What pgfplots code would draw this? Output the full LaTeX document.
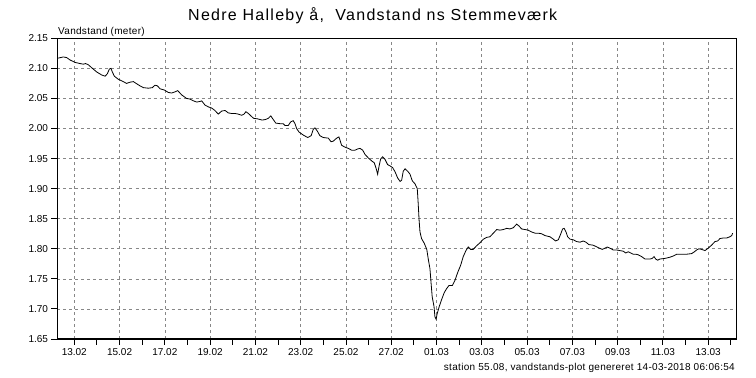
\documentclass[border=0pt]{standalone}
\usepackage{fontspec}
\setmainfont{Liberation Sans}
\usepackage{pgfplots}
\pgfplotsset{compat=1.18}
\definecolor{gridgray}{RGB}{135,135,135}
\begin{document}
\begin{tikzpicture}[x=1pt,y=1pt]
\useasboundingbox (0,0) rectangle (756,378);
\begin{axis}[
  at={(57.5pt,39pt)}, anchor=south west,
  scale only axis, width=679.2pt, height=300.7pt,
  xmin=-0.742, xmax=29.26, ymin=1.65, ymax=2.15,
  xtick={0,2,4,6,8,10,12,14,16,18,20,22,24,26,28},
  xticklabels={13.02,15.02,17.02,19.02,21.02,23.02,25.02,27.02,01.03,03.03,05.03,07.03,09.03,11.03,13.03},
  minor xtick={1,3,5,7,9,11,13,15,17,19,21,23,25,27,29},
  ytick={1.65,1.70,1.75,1.80,1.85,1.90,1.95,2.00,2.05,2.10,2.15},
  yticklabel style={/pgf/number format/.cd, fixed, fixed zerofill, precision=2},
  /pgf/number format/assume math mode=true,
  tick align=outside, xtick pos=bottom, ytick pos=left,
  major tick length=6pt, minor tick length=6pt,
  tick style={black, line width=0.9pt},
  xmajorgrids, ymajorgrids,
  major grid style={gridgray, dash pattern=on 3pt off 3pt, line width=0.7pt},
  axis line style={line width=1.3pt},
  ticklabel style={font=\fontsize{10}{12}\selectfont},
]
\addplot[black, line width=0.8pt] coordinates {
(-0.71,2.117) (-0.49,2.119) (-0.34,2.118) (-0.19,2.114) (0.03,2.110) (0.25,2.108) (0.40,2.107) (0.50,2.108) (0.62,2.106) (0.80,2.100) (0.99,2.094) (1.21,2.089) (1.36,2.087) (1.46,2.091) (1.55,2.099) (1.62,2.100) (1.68,2.094) (1.77,2.087) (1.94,2.082) (2.16,2.078) (2.31,2.075) (2.46,2.077) (2.61,2.078) (2.73,2.075) (2.90,2.071) (3.05,2.068) (3.27,2.067) (3.45,2.068) (3.56,2.072) (3.67,2.071) (3.79,2.066) (3.98,2.064) (4.15,2.060) (4.30,2.059) (4.45,2.061) (4.57,2.063) (4.74,2.056) (4.96,2.050) (5.11,2.049) (5.26,2.046) (5.41,2.044) (5.55,2.045) (5.63,2.046) (5.77,2.039) (5.92,2.036) (6.07,2.034) (6.21,2.030) (6.36,2.024) (6.51,2.029) (6.66,2.030) (6.80,2.026) (6.95,2.025) (7.10,2.025) (7.24,2.024) (7.39,2.022) (7.50,2.024) (7.58,2.028) (7.69,2.025) (7.80,2.021) (7.92,2.017) (8.10,2.016) (8.30,2.014) (8.45,2.015) (8.57,2.017) (8.68,2.021) (8.75,2.017) (8.90,2.009) (9.09,2.008) (9.23,2.008) (9.31,2.005) (9.45,2.005) (9.56,2.011) (9.67,2.013) (9.75,2.008) (9.82,2.000) (9.93,1.994) (10.12,1.989) (10.31,1.985) (10.46,1.988) (10.56,1.999) (10.63,2.001) (10.73,1.996) (10.85,1.988) (11.00,1.985) (11.22,1.984) (11.34,1.978) (11.44,1.979) (11.59,1.984) (11.69,1.986) (11.81,1.972) (11.96,1.969) (12.10,1.967) (12.25,1.964) (12.40,1.964) (12.52,1.966) (12.62,1.967) (12.74,1.964) (12.84,1.957) (12.99,1.951) (13.14,1.946) (13.25,1.943) (13.33,1.934) (13.40,1.924) (13.46,1.937) (13.53,1.949) (13.62,1.953) (13.72,1.949) (13.84,1.940) (13.94,1.938) (14.06,1.935) (14.17,1.928) (14.28,1.918) (14.39,1.912) (14.46,1.914) (14.53,1.929) (14.61,1.933) (14.75,1.928) (14.83,1.924) (14.93,1.913) (15.05,1.908) (15.15,1.900) (15.19,1.876) (15.23,1.848) (15.27,1.828) (15.34,1.817) (15.46,1.809) (15.57,1.799) (15.64,1.782) (15.71,1.767) (15.76,1.743) (15.81,1.720) (15.89,1.704) (15.93,1.687) (15.98,1.683) (16.03,1.692) (16.12,1.704) (16.23,1.716) (16.34,1.727) (16.45,1.734) (16.55,1.739) (16.70,1.739) (16.82,1.748) (16.93,1.760) (17.07,1.773) (17.18,1.787) (17.30,1.797) (17.40,1.803) (17.51,1.799) (17.62,1.799) (17.77,1.805) (17.92,1.810) (18.07,1.816) (18.22,1.819) (18.36,1.820) (18.51,1.826) (18.66,1.832) (18.80,1.831) (18.95,1.832) (19.10,1.834) (19.24,1.833) (19.39,1.835) (19.54,1.841) (19.64,1.838) (19.76,1.833) (19.91,1.832) (20.05,1.831) (20.20,1.828) (20.35,1.826) (20.49,1.826) (20.64,1.825) (20.79,1.822) (21.01,1.820) (21.16,1.816) (21.26,1.813) (21.38,1.815) (21.48,1.824) (21.57,1.833) (21.64,1.834) (21.72,1.828) (21.79,1.820) (21.90,1.816) (22.04,1.815) (22.19,1.812) (22.34,1.811) (22.48,1.813) (22.60,1.811) (22.73,1.807) (22.92,1.806) (23.14,1.802) (23.32,1.799) (23.44,1.801) (23.54,1.803) (23.66,1.801) (23.81,1.798) (23.96,1.798) (24.10,1.797) (24.25,1.796) (24.36,1.793) (24.47,1.795) (24.58,1.793) (24.69,1.791) (24.80,1.791) (24.91,1.790) (25.06,1.787) (25.21,1.783) (25.43,1.783) (25.53,1.784) (25.61,1.787) (25.68,1.783) (25.77,1.781) (25.87,1.783) (26.09,1.784) (26.31,1.786) (26.46,1.788) (26.61,1.791) (26.83,1.791) (27.05,1.791) (27.27,1.792) (27.39,1.795) (27.49,1.798) (27.59,1.800) (27.71,1.799) (27.86,1.797) (28.00,1.801) (28.15,1.806) (28.30,1.812) (28.42,1.813) (28.52,1.817) (28.67,1.818) (28.82,1.818) (28.96,1.820) (29.04,1.822) (29.08,1.826)
};
\end{axis}
\node[anchor=base west, inner sep=0pt, font=\fontsize{16}{19}\selectfont\addfontfeatures{LetterSpace=8}] at (188,357.3) {Nedre Halleby å,\ \ Vandstand ns Stemmeværk};
\node[anchor=base west, inner sep=0pt, font=\fontsize{10}{12}\selectfont\addfontfeatures{LetterSpace=3}] at (58,343) {Vandstand (meter)};
\node[anchor=base east, inner sep=0pt, font=\fontsize{10}{12}\selectfont\addfontfeatures{LetterSpace=3}] at (735,8) {station 55.08, vandstands-plot genereret 14-03-2018 06:06:54};
\end{tikzpicture}
\end{document}
